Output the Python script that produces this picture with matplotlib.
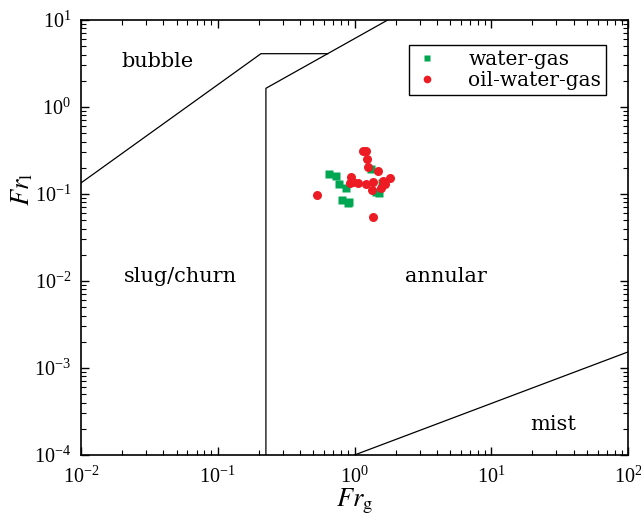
import numpy as np
import matplotlib
matplotlib.use('Agg')
import matplotlib.pyplot as plt

plt.rcParams['font.family'] = 'serif'
plt.rcParams['font.serif'] = ['Liberation Serif', 'DejaVu Serif']
plt.rcParams['mathtext.fontset'] = 'stix'

# flow-pattern boundaries (Fr_g, Fr_l)
bubble_x = [0.01, 0.207, 0.637]
bubble_y = [0.134, 4.1, 4.1]
annular_x = [0.225, 0.225, 1.75]
annular_y = [1e-4, 1.64, 10.0]
mist_x = [1.0, 100.0]
mist_y = [1e-4, 1.53e-3]

# measured points
wg_x = [0.651, 0.733, 0.771, 0.867, 0.805, 0.912, 0.891, 1.31, 1.44, 1.51, 1.59]
wg_y = [0.168, 0.162, 0.131, 0.117, 0.0847, 0.0815, 0.0788, 0.195, 0.106, 0.103, 0.135]
owg_x = [0.535, 0.942, 0.927, 0.975, 1.06, 1.16, 1.21, 1.23, 1.26, 1.49,
         1.21, 1.37, 1.61, 1.66, 1.81, 1.34, 1.56, 1.36]
owg_y = [0.0974, 0.158, 0.135, 0.138, 0.133, 0.315, 0.315, 0.252, 0.203, 0.184,
         0.130, 0.138, 0.142, 0.130, 0.154, 0.111, 0.116, 0.054]

regions = ['bubble', 'slug/churn', 'annular', 'mist']
region_x = [0.0366, 0.053, 4.67, 28.3]
region_y = [3.3, 0.0114, 0.0114, 2.27e-4]

fig = plt.figure(figsize=(6.41, 5.15), dpi=100)
ax = fig.add_axes([81 / 641, 1 - 455 / 515, 547 / 641, 435 / 515])

ax.plot(bubble_x, bubble_y, color='black', lw=0.9)
ax.plot(annular_x, annular_y, color='black', lw=0.9)
ax.plot(mist_x, mist_y, color='black', lw=0.9)

ax.plot(wg_x, wg_y, 's', color='#00a651', ms=5.2, mec='none', label='water-gas')
ax.plot(owg_x, owg_y, 'o', color='#ed1c24', ms=6.5, mec='none', label='oil-water-gas')

for name, tx, ty in zip(regions, region_x, region_y):
    ax.text(tx, ty, name, ha='center', va='center', fontsize=15,
            family='DejaVu Serif', fontweight='light')

ax.set_xscale('log')
ax.set_yscale('log')
ax.set_xlim(1e-2, 1e2)
ax.set_ylim(1e-4, 1e1)

ax.tick_params(which='both', direction='in', top=True, right=True,
               labelsize=14.5)
ax.tick_params(axis='x', pad=8)
ax.tick_params(axis='y', pad=7)
ax.tick_params(which='major', length=6, width=1)
ax.tick_params(which='minor', length=3.5, width=0.8)
for sp in ax.spines.values():
    sp.set_linewidth(1.2)

ax.set_xlabel(r'$Fr_{\mathrm{g}}$', fontsize=19)
ax.set_ylabel(r'$Fr_{\mathrm{l}}$', fontsize=19)
ax.xaxis.set_label_coords(0.5, -0.072)
ax.yaxis.set_label_coords(-0.085, 0.61)

leg = ax.legend(loc='upper right', bbox_to_anchor=(0.96, 0.943),
                borderaxespad=0, fancybox=False, edgecolor='black',
                framealpha=1, prop={'family': 'DejaVu Serif', 'size': 14.5},
                handlelength=1.3, handletextpad=1.4, borderpad=0.25,
                labelspacing=0.1, markerscale=0.85)
leg.get_frame().set_linewidth(1.0)

fig.savefig('out.png', dpi=100)
